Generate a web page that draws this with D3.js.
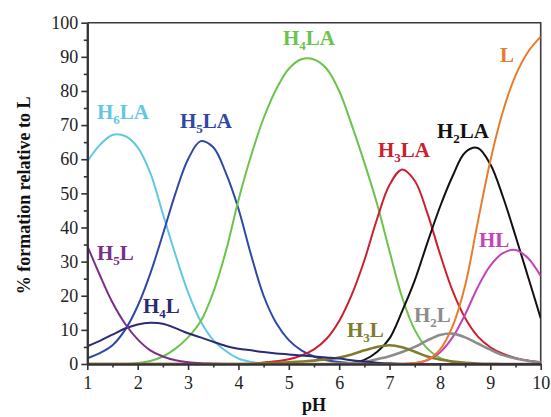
<!DOCTYPE html>
<html>
<head>
<meta charset="utf-8">
<script src="https://cdn.jsdelivr.net/npm/d3@7"></script>
<style>
  html, body { margin: 0; padding: 0; background: #fff; }
  svg { display: block; }
  text { font-family: "Liberation Serif", "Times New Roman", serif; }
</style>
</head>
<body>
<svg id="chart" width="551" height="417"></svg>
<script>
// ---- data ----
const pH = [1, 1.25, 1.5, 1.75, 2, 2.25, 2.5, 2.75, 3, 3.25, 3.5, 3.75, 4, 4.25, 4.5, 4.75, 5, 5.25, 5.5,
            5.75, 6, 6.25, 6.5, 6.75, 7, 7.25, 7.5, 7.75, 8, 8.25, 8.5, 8.75, 9, 9.25, 9.5, 9.75, 10];

const H6LA = [59.3, 64.2, 67.1, 66.8, 63.5, 56, 44, 32, 21, 12.5, 7, 3.8, 1.6, 0.6, 0.2, 0.1,
              0, 0, 0, 0, 0, 0, 0, 0, 0, 0, 0, 0, 0, 0, 0, 0, 0, 0, 0, 0, 0];
const H5LA = [1.7, 3.2, 5.5, 10, 17, 26.5, 38, 50, 60, 65.3, 63.5, 56, 45.5, 32, 20, 12, 7, 4, 2.2, 1.1, 0.6, 0.3, 0.1,
              0, 0, 0, 0, 0, 0, 0, 0, 0, 0, 0, 0, 0, 0];
const H4LA = [0, 0, 0, 0, 0.3, 0.9, 2.2, 4.5, 7.8, 12.5, 21, 33, 48, 61, 72, 80.5, 86.5, 89.3, 89.2, 86.5, 80, 70, 59,
              47, 33, 19.5, 10, 4.5, 1.8, 0.7, 0.2, 0, 0, 0, 0, 0, 0];
const H3LA = [0, 0, 0, 0, 0, 0, 0, 0, 0, 0, 0, 0, 0, 0, 0.45, 0.8, 1.4, 2.5, 4.3, 7.4, 12.6, 20.3, 30.4, 42.4, 52.5,
              57, 53.7, 44.2, 32.3, 21.5, 13.5, 8.1, 4.9, 3, 1.8, 1.0, 0.5];
const H2LA = [0, 0, 0, 0, 0, 0, 0, 0, 0, 0, 0, 0, 0, 0, 0, 0, 0, 0, 0, 0, 0, 0.3, 1.2, 3.5, 7.5, 15.5, 24.5, 35.5, 46,
              55, 62, 63.3, 58.5, 49, 37.5, 25.5, 13.4];
const L    = [0, 0, 0, 0, 0, 0, 0, 0, 0, 0, 0, 0, 0, 0, 0, 0, 0, 0, 0, 0, 0, 0, 0, 0, 0, 0, 0.3, 1.2, 4.2, 11, 23, 41.5,
              59.5, 74, 84.5, 91.5, 95.9];
const HL   = [0, 0, 0, 0, 0, 0, 0, 0, 0, 0, 0, 0, 0, 0, 0, 0, 0, 0, 0, 0, 0, 0, 0, 0, 0, 0, 0.2, 1.1, 3.4, 7.8, 14.5, 22.5,
              28.8, 32.5, 33.4, 31, 25.8];
const H2L  = [0, 0, 0, 0, 0, 0, 0, 0, 0, 0, 0, 0, 0, 0, 0, 0, 0, 0, 0, 0, 0.1, 0.3, 0.6, 1.4, 2.3, 3.5, 5.0, 6.9, 8.5,
              8.9, 7.8, 6.0, 4.2, 2.6, 1.6, 0.9, 0.5];
const H3L  = [0, 0, 0, 0, 0, 0, 0, 0, 0, 0, 0, 0, 0, 0, 0.2, 0.35, 0.5, 0.75, 1.0, 1.4, 1.9, 2.8, 4.0, 5.0, 5.5, 4.9,
              3.6, 2.2, 1.3, 0.7, 0.35, 0.15, 0.05, 0, 0, 0, 0];
const H4L  = [5.2, 6.8, 8.6, 10.4, 11.6, 12.1, 11.8, 10.5, 9.0, 7.8, 6.5, 5.3, 4.5, 4.0, 3.5, 3.1, 2.8, 2.5, 2.2, 1.9,
              1.6, 1.1, 0.7, 0.4, 0.2, 0.1, 0.05, 0, 0, 0, 0, 0, 0, 0, 0, 0, 0];
const H5L  = [34.6, 26, 18, 11.8, 7.2, 4.0, 2.2, 1.1, 0.5, 0.2, 0.1,
              0, 0, 0, 0, 0, 0, 0, 0, 0, 0, 0, 0, 0, 0, 0, 0, 0, 0, 0, 0, 0, 0, 0, 0, 0, 0];

const xTicks = [1, 2, 3, 4, 5, 6, 7, 8, 9, 10];
const yTicks = [0, 10, 20, 30, 40, 50, 60, 70, 80, 90, 100];

// ---- series styling and labels ----
const series = [
  { name: "H6LA", values: H6LA, color: "#62c8e2", w: 2,   label: ["H", "6", "LA"], lx: 97,  ly: 119 },
  { name: "H5LA", values: H5LA, color: "#2f47a6", w: 2,   label: ["H", "5", "LA"], lx: 180, ly: 128 },
  { name: "H4LA", values: H4LA, color: "#6cc34b", w: 2,   label: ["H", "4", "LA"], lx: 283, ly: 45 },
  { name: "H3LA", values: H3LA, color: "#cc2030", w: 2,   label: ["H", "3", "LA"], lx: 378, ly: 157 },
  { name: "H2LA", values: H2LA, color: "#111111", w: 2,   label: ["H", "2", "LA"], lx: 437, ly: 138 },
  { name: "HL",   values: HL,   color: "#c443b8", w: 2,   label: ["HL", "", ""],   lx: 479, ly: 247 },
  { name: "H2L",  values: H2L,  color: "#8c8c8c", w: 2.6, label: ["H", "2", "L"],  lx: 414, ly: 322 },
  { name: "H3L",  values: H3L,  color: "#807c2c", w: 2.6, label: ["H", "3", "L"],  lx: 347, ly: 337 },
  { name: "H4L",  values: H4L,  color: "#2b2a74", w: 2,   label: ["H", "4", "L"],  lx: 143, ly: 313 },
  { name: "H5L",  values: H5L,  color: "#7a3088", w: 2,   label: ["H", "5", "L"],  lx: 97,  ly: 260 },
  { name: "L",    values: L,    color: "#e97b2d", w: 2,   label: ["L", "", ""],    lx: 500, ly: 62 }
];

const svg = d3.select("#chart");
const x = d3.scaleLinear().domain([1, 10]).range([87.3, 540.7]);
const y = d3.scaleLinear().domain([0, 100]).range([364, 22.7]);

// clip curves to plot area
svg.append("clipPath").attr("id", "plotclip")
  .append("rect").attr("x", x(1)).attr("y", y(100)).attr("width", x(10) - x(1)).attr("height", y(0) - y(100));

// frame (top and right)
svg.append("path")
  .attr("d", `M${x(1)},${y(100)}H${x(10)}V${y(0)}`)
  .attr("fill", "none").attr("stroke", "#3a3a3a").attr("stroke-width", 1.6);

// curves
const line = d3.line().x((d, i) => x(pH[i])).y(d => y(d)).curve(d3.curveCatmullRom.alpha(0.5));
const g = svg.append("g").attr("clip-path", "url(#plotclip)");
series.forEach(s => {
  g.append("path").datum(s.values)
    .attr("d", line)
    .attr("fill", "none")
    .attr("stroke", s.color)
    .attr("stroke-width", s.w)
    .attr("stroke-linejoin", "round");
});

// axes
const axisColor = "#333";
const yMinor = d3.range(5, 100, 10);
const xMinor = d3.range(1.5, 10, 1);

const yAx = svg.append("g").attr("transform", `translate(${x(1)},0)`)
  .call(d3.axisLeft(y).tickValues(yTicks).tickSize(6).tickSizeOuter(0).tickPadding(3));
const yAxMinor = svg.append("g").attr("transform", `translate(${x(1)},0)`)
  .call(d3.axisLeft(y).tickValues(yMinor).tickSize(3.5).tickSizeOuter(0).tickFormat(""));
const xAx = svg.append("g").attr("transform", `translate(0,${y(0)})`)
  .call(d3.axisBottom(x).tickValues(xTicks).tickSize(6).tickSizeOuter(0).tickPadding(6));
const xAxMinor = svg.append("g").attr("transform", `translate(0,${y(0)})`)
  .call(d3.axisBottom(x).tickValues(xMinor).tickSize(3.5).tickSizeOuter(0).tickFormat(""));

[yAx, yAxMinor, xAx, xAxMinor].forEach(a => {
  a.selectAll("path.domain").attr("stroke", axisColor).attr("stroke-width", 2);
  a.selectAll(".tick line").attr("stroke", axisColor).attr("stroke-width", 1.6);
  a.selectAll(".tick text")
    .attr("fill", "#222")
    .style("font-family", '"Liberation Serif", "Times New Roman", serif')
    .style("font-size", "18px");
});

// axis titles
svg.append("text")
  .attr("transform", `translate(30,${(y(0) + y(100)) / 2 + 2}) rotate(-90)`)
  .attr("text-anchor", "middle")
  .attr("font-weight", "bold")
  .attr("font-size", 18)
  .attr("fill", "#111")
  .text("% formation relative to L");

svg.append("text")
  .attr("x", (x(1) + x(10)) / 2)
  .attr("y", 411)
  .attr("text-anchor", "middle")
  .attr("font-weight", "bold")
  .attr("font-size", 18)
  .attr("fill", "#111")
  .text("pH");

// species labels with subscripts
series.forEach(s => {
  const t = svg.append("text")
    .attr("x", s.lx).attr("y", s.ly)
    .attr("font-weight", "bold")
    .attr("font-size", 21)
    .attr("fill", s.color);
  t.append("tspan").text(s.label[0]);
  if (s.label[1]) {
    t.append("tspan").attr("font-size", 13).attr("dy", 5).text(s.label[1]);
    t.append("tspan").attr("dy", -5).text(s.label[2]);
  }
});
</script>
</body>
</html>
